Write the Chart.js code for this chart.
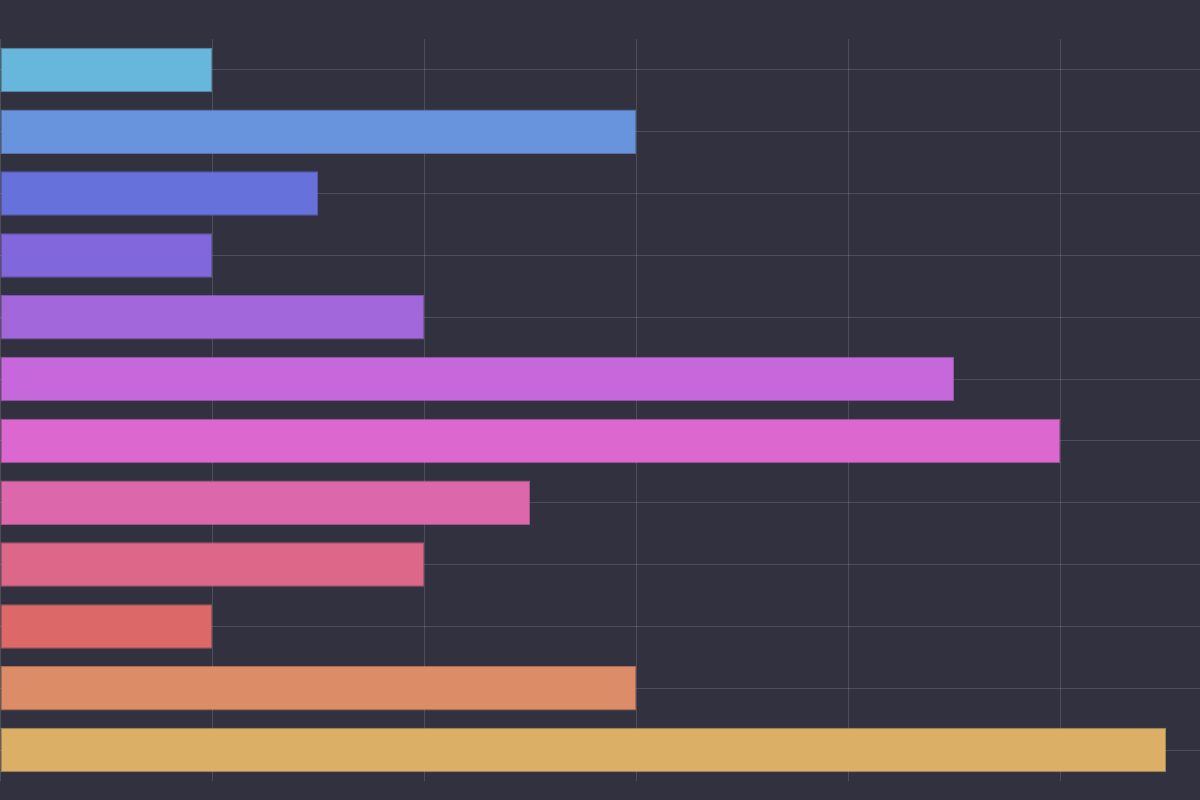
<!DOCTYPE html>
<html>
<head>
<meta charset="utf-8">
<script src="https://cdn.jsdelivr.net/npm/chart.js@4/dist/chart.umd.min.js"></script>
<style>
  html, body { margin: 0; padding: 0; background: #31313f; }
  #wrap { width: 1200px; height: 800px; position: relative; }
</style>
</head>
<body>
<div id="wrap"><canvas id="barChart"></canvas></div>
<script>
// categories (no labels are shown in the picture)
const categories = ["A", "B", "C", "D", "E", "F", "G", "H", "I", "J", "K", "L"];
const values = [1, 3, 1.5, 1, 2, 4.5, 5, 2.5, 2, 1, 3, 5.5];
// value axis gridline positions
const xTicks = [0, 1, 2, 3, 4, 5];

// palette, top to bottom
const barColors = [
  "#67b7dc", "#6794dc", "#6771dc", "#8067dc", "#a367dc", "#c767dc",
  "#dc67ce", "#dc67ab", "#dc6788", "#dc6967", "#dc8c67", "#dcaf67"
];
// darker outline for each bar
const borderColors = barColors.map(c => c + "aa");

const gridColor = "rgba(255,255,255,0.14)";

const ctx = document.getElementById("barChart").getContext("2d");

new Chart(ctx, {
  type: 'bar',
  data: {
    labels: categories,
    datasets: [{
      data: values,
      backgroundColor: barColors,
      borderColor: borderColors,
      borderWidth: 1,
      borderSkipped: false,
      categoryPercentage: 1,
      barPercentage: 0.72
    }]
  },
  options: {
    indexAxis: 'y',
    responsive: true,
    maintainAspectRatio: false,
    animation: false,
    layout: {
      padding: { top: 39, bottom: 19, left: 0, right: 0 }
    },
    plugins: {
      legend: { display: false },
      tooltip: { enabled: false }
    },
    scales: {
      x: {
        type: 'linear',
        min: 0,
        max: 1200 / 212,
        ticks: { display: false },
        afterBuildTicks: (scale) => {
          scale.ticks = xTicks.map(v => ({ value: v }));
        },
        grid: { color: gridColor, drawTicks: false },
        border: { display: false }
      },
      y: {
        ticks: { display: false },
        grid: { color: gridColor, drawTicks: false, offset: false },
        border: { display: false }
      }
    }
  }
});
</script>
</body>
</html>
